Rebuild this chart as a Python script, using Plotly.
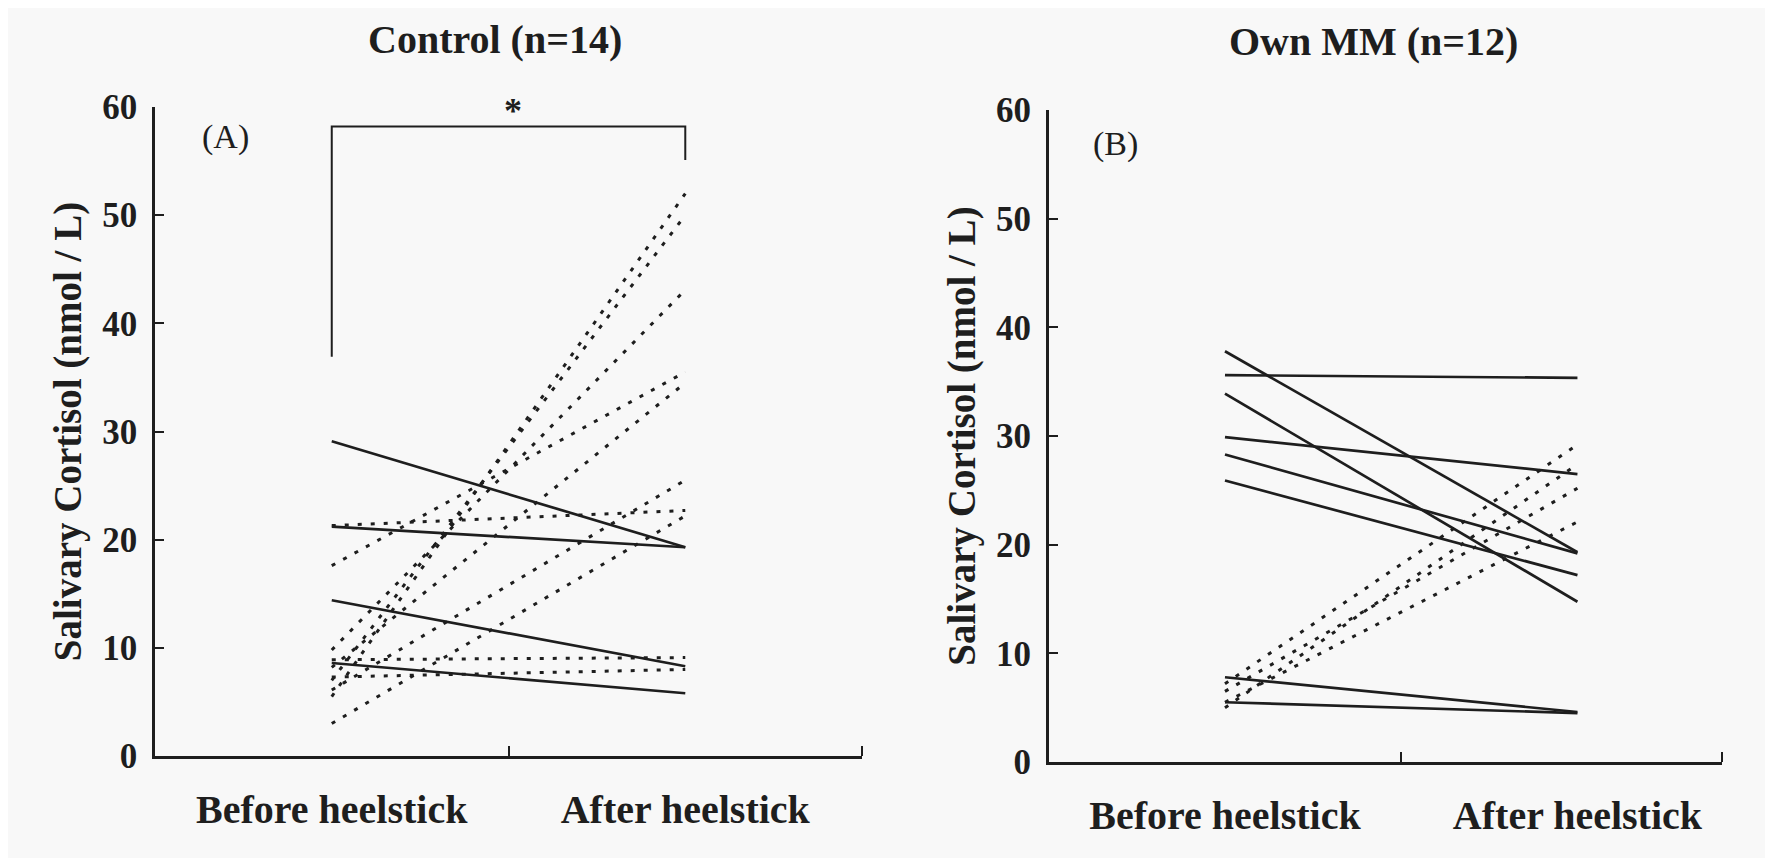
import plotly.graph_objects as go

# ---------------- data ----------------
time_points = [1, 2]
time_labels = ["Before heelstick", "After heelstick"]

control_before_solid = [29.1, 21.2, 14.4, 8.6]
control_after_solid = [19.3, 19.3, 8.3, 5.8]
control_before_dotted = [5.5, 7.0, 9.8, 17.6, 8.2, 6.1, 3.0, 21.3, 8.9, 7.3]
control_after_dotted = [52.0, 50.0, 43.1, 35.5, 34.5, 25.5, 22.2, 22.7, 9.1, 8.0]

own_before_solid = [37.8, 35.6, 33.9, 29.9, 28.3, 25.9, 7.8, 5.5]
own_after_solid = [19.3, 35.35, 14.75, 26.5, 19.2, 17.2, 4.6, 4.5]
own_before_dotted = [7.2, 5.0, 6.5, 5.5]
own_after_dotted = [29.2, 27.4, 25.2, 22.1]

bracket_x = [1, 1, 2, 2]
bracket_y = [36.9, 58.2, 58.2, 55.1]

y_ticks = [0, 10, 20, 30, 40, 50, 60]

# ---------------- style ----------------
INK = "#1e1e1e"
BG = "#f8f8f8"
FONT = "Liberation Serif"

fig = go.Figure()


def add_pairs(before, after, xa, ya, dotted):
    for b, a in zip(before, after):
        fig.add_trace(go.Scatter(
            x=time_points, y=[b, a], xaxis=xa, yaxis=ya, mode="lines",
            line=dict(color=INK, width=3 if dotted else 2.7,
                      dash="4px,9px" if dotted else "solid"),
            showlegend=False, hoverinfo="skip"))


add_pairs(control_before_solid, control_after_solid, "x", "y", False)
add_pairs(control_before_dotted, control_after_dotted, "x", "y", True)
add_pairs(own_before_solid, own_after_solid, "x2", "y2", False)
add_pairs(own_before_dotted, own_after_dotted, "x2", "y2", True)

fig.add_trace(go.Scatter(x=bracket_x, y=bracket_y, xaxis="x", yaxis="y",
                         mode="lines", line=dict(color=INK, width=2),
                         showlegend=False, hoverinfo="skip"))


def yaxis_cfg(domain, anchor):
    return dict(
        domain=domain, anchor=anchor, range=[0, 60], tickvals=y_ticks,
        ticks="inside", ticklen=9, tickwidth=2, tickcolor=INK,
        showline=True, linecolor=INK, linewidth=2.5, showgrid=False,
        zeroline=False, ticklabelstandoff=8, automargin=False,
        tickfont=dict(family=FONT, size=35, color=INK, weight="bold"),
        title=dict(text="Salivary Cortisol (nmol / L)", standoff=9,
                   font=dict(family=FONT, size=39, color=INK, weight="bold")))


def xaxis_cfg(domain, anchor, rng, end_tick):
    return dict(
        domain=domain, anchor=anchor, range=rng, tickvals=time_points,
        ticktext=time_labels, ticks="", showline=True, linecolor=INK,
        linewidth=3, showgrid=False, zeroline=False, ticklabelstandoff=16,
        automargin=False,
        tickfont=dict(family=FONT, size=40, color=INK, weight="bold"),
        minor=dict(tickvals=[1.5, end_tick], ticks="inside", ticklen=10,
                   tickwidth=2, tickcolor=INK, showgrid=False))


fig.update_layout(
    width=1773, height=858,
    margin=dict(l=0, r=0, t=0, b=0, pad=0),
    paper_bgcolor=BG, plot_bgcolor=BG,
    xaxis=xaxis_cfg([0.0829, 0.4817], "y", [0.5, 2.5], 2.5),
    yaxis=yaxis_cfg([0.1282, 0.8846], "x"),
    xaxis2=xaxis_cfg([0.5870, 0.9667], "y2", [0.5, 2.41], 2.41),
    yaxis2=yaxis_cfg([0.1212, 0.8811], "x2"),
    annotations=[
        dict(text="Control (n=14)", x=0.2748, y=0.963, xref="paper", yref="paper",
             showarrow=False, xanchor="center", yanchor="middle",
             font=dict(family=FONT, size=40, color=INK, weight="bold")),
        dict(text="Own MM (n=12)", x=0.7699, y=0.961, xref="paper", yref="paper",
             showarrow=False, xanchor="center", yanchor="middle",
             font=dict(family=FONT, size=40, color=INK, weight="bold")),
        dict(text="*", x=1.5, y=60, xref="x", yref="y", showarrow=False,
             xanchor="center", yanchor="middle", yshift=-4, xshift=4,
             font=dict(family=FONT, size=36, color=INK, weight="bold")),
        dict(text="(A)", x=0.70, y=57.2, xref="x", yref="y", showarrow=False,
             xanchor="center", yanchor="middle",
             font=dict(family=FONT, size=34, color=INK)),
        dict(text="(B)", x=0.69, y=56.9, xref="x2", yref="y2", showarrow=False,
             xanchor="center", yanchor="middle",
             font=dict(family=FONT, size=34, color=INK)),
    ],
)

fig.write_html("out.html")
